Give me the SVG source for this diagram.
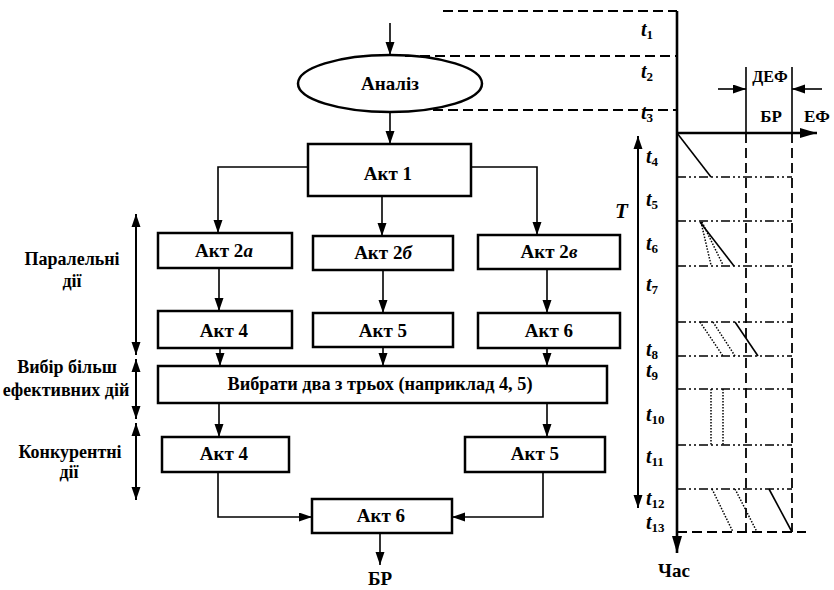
<svg xmlns="http://www.w3.org/2000/svg" width="834" height="590" viewBox="0 0 834 590">
  <defs>
    <marker id="ah" markerUnits="userSpaceOnUse" markerWidth="14" markerHeight="10" refX="13" refY="4.5" orient="auto">
      <path d="M0,0 L13,4.5 L0,9 z" fill="#000"/>
    </marker>
    <marker id="ahs" markerUnits="userSpaceOnUse" markerWidth="14" markerHeight="10" refX="0" refY="4.5" orient="auto">
      <path d="M13,0 L0,4.5 L13,9 z" fill="#000"/>
    </marker>
    <marker id="ahb" markerUnits="userSpaceOnUse" markerWidth="18" markerHeight="12" refX="17" refY="5" orient="auto">
      <path d="M0,0 L17,5 L0,10 z" fill="#000"/>
    </marker>
  </defs>
  <style>
    .lbl { text-anchor: middle; }
    .box { fill: #fff; stroke: #000; stroke-width: 2.5; }
    .conn { fill: none; stroke: #000; stroke-width: 1.6; marker-end: url(#ah); }
    .dbl { fill: none; stroke: #000; stroke-width: 2; marker-end: url(#ah); marker-start: url(#ahs); }
    .dash { fill: none; stroke: #000; stroke-width: 1.8; stroke-dasharray: 10 5; }
    .dd { fill: none; stroke: #000; stroke-width: 1.5; stroke-dasharray: 9 3 2 3 2 3; }
    .dot { fill: none; stroke: #000; stroke-width: 1.5; stroke-dasharray: 1.5 1.5; }
    .sl { fill: none; stroke: #000; stroke-width: 1.6; }
    .axis { fill: none; stroke: #000; stroke-width: 2.6; }
    .t { font-style: italic; }
  </style>

  <g font-family="'Liberation Serif', 'DejaVu Serif', 'Times New Roman', serif" font-weight="bold" font-size="19" fill="#000">

  <!-- flowchart connectors -->
  <g id="connectors">
    <path class="conn" d="M390,23 V55"/>
    <path class="conn" d="M390,112 V144"/>
    <path class="conn" d="M308,167 H218 V233"/>
    <path class="conn" d="M382,197 V236"/>
    <path class="conn" d="M471,167 H537 V235"/>
    <path class="conn" d="M219,268 V311"/>
    <path class="conn" d="M383,270 V313"/>
    <path class="conn" d="M547,269 V313"/>
    <path class="conn" d="M220,348 V366"/>
    <path class="conn" d="M383,347 V366"/>
    <path class="conn" d="M547,348 V366"/>
    <path class="conn" d="M219,403 V437"/>
    <path class="conn" d="M547,403 V437"/>
    <path class="conn" d="M218,472 V517 H312"/>
    <path class="conn" d="M543,472 V517 H452"/>
    <path class="conn" d="M380,533 V565"/>
  </g>

  <!-- nodes -->
  <g id="analysis">
    <ellipse cx="390" cy="83.5" rx="92" ry="28.5" fill="#fff" stroke="#000" stroke-width="2.5"/>
    <text class="lbl" x="390" y="90">Аналіз</text>
  </g>
  <g id="act1">
    <rect class="box" x="308" y="144" width="163" height="52"/>
    <text class="lbl" x="388" y="180">Акт 1</text>
  </g>
  <g id="act2a">
    <rect class="box" x="158" y="233" width="134" height="35"/>
    <text class="lbl" x="224" y="257">Акт 2<tspan font-style="italic">а</tspan></text>
  </g>
  <g id="act2b">
    <rect class="box" x="313" y="236" width="140" height="34"/>
    <text class="lbl" x="383" y="259">Акт 2<tspan font-style="italic">б</tspan></text>
  </g>
  <g id="act2v">
    <rect class="box" x="478" y="235" width="142" height="34"/>
    <text class="lbl" x="549" y="258">Акт 2<tspan font-style="italic">в</tspan></text>
  </g>
  <g id="act4">
    <rect class="box" x="158" y="311" width="134" height="37"/>
    <text class="lbl" x="224" y="337">Акт 4</text>
  </g>
  <g id="act5">
    <rect class="box" x="313" y="313" width="140" height="34"/>
    <text class="lbl" x="383" y="337">Акт 5</text>
  </g>
  <g id="act6">
    <rect class="box" x="478" y="313" width="142" height="35"/>
    <text class="lbl" x="549" y="337">Акт 6</text>
  </g>
  <g id="choose">
    <rect class="box" x="158" y="366" width="449" height="37"/>
    <text class="lbl" x="380" y="390" font-size="18.3">Вибрати два з трьох (наприклад 4, 5)</text>
  </g>
  <g id="act4b">
    <rect class="box" x="162" y="437" width="127" height="35"/>
    <text class="lbl" x="224" y="460">Акт 4</text>
  </g>
  <g id="act5b">
    <rect class="box" x="465" y="437" width="140" height="35"/>
    <text class="lbl" x="535" y="460">Акт 5</text>
  </g>
  <g id="act6b">
    <rect class="box" x="312" y="499" width="140" height="34"/>
    <text class="lbl" x="381" y="522">Акт 6</text>
  </g>
  <g id="result">
    <text class="lbl" x="380" y="585">БР</text>
  </g>

  <!-- phase labels on the left -->
  <g id="phases">
    <path class="dbl" d="M136,214 V355"/>
    <path class="dbl" d="M136,359 V419"/>
    <path class="dbl" d="M136,423 V500"/>
    <text class="lbl" x="72" y="265" font-size="18">Паралельні</text>
    <text class="lbl" x="72" y="287" font-size="18">дії</text>
    <text class="lbl" x="67" y="373" font-size="18">Вибір більш</text>
    <text class="lbl" x="66" y="396" font-size="18">ефективних дій</text>
    <text class="lbl" x="70" y="458" font-size="18">Конкурентні</text>
    <text class="lbl" x="69" y="478" font-size="18">дії</text>
  </g>

  <!-- time chart -->
  <g id="timeline">
    <path class="dash" d="M443,11 H677"/>
    <path class="dash" d="M405,56 H677"/>
    <path class="dash" d="M433,110 H677"/>
    <path class="axis" d="M677,11 V553" marker-end="url(#ahb)"/>
    <path class="axis" d="M677,133 H817" marker-end="url(#ahb)"/>
    <path class="sl" d="M746,67 V133 M792,67 V133" stroke-width="2"/>
    <path class="dash" d="M746,133 V532 M792,133 V532"/>
    <path class="conn" d="M718,89 H746"/>
    <path class="conn" d="M822,89 H792"/>
    <path class="dd" d="M677,177 H792 M677,221 H792 M677,266 H792 M677,322 H792 M677,356 H792 M677,389 H792 M677,445 H792 M677,489 H792"/>
    <path class="dash" d="M677,532 H806"/>
    <path class="sl" d="M677,133 L711,177"/>
    <path class="sl" d="M700,222 L734,266"/>
    <path class="dot" d="M701,222 L711,265 M702,222 L723,265"/>
    <path class="dot" d="M700,322 L723,356 M713,322 L735,356"/>
    <path class="sl" d="M735,322 L758,356"/>
    <path class="dot" d="M711,389 V445 M723,389 V445"/>
    <path class="dot" d="M712,489 L733,532 M735,489 L757,532"/>
    <path class="sl" d="M769,489 L792,532"/>
    <path class="dbl" d="M638,136 V508" stroke-width="2.4"/>
    <text x="615" y="218" class="t" font-size="21">T</text>
    <text x="770" y="82" class="lbl" font-size="16">ДЕФ</text>
    <text x="771" y="122" class="lbl" font-size="17">БР</text>
    <text x="817" y="122" class="lbl" font-size="17">ЕФ</text>
    <text x="674" y="577" class="lbl" font-size="19">Час</text>
    <g font-size="20">
      <text class="t" x="641" y="36">t<tspan font-size="13" font-style="normal" dy="3">1</tspan></text>
      <text class="t" x="641" y="78">t<tspan font-size="13" font-style="normal" dy="3">2</tspan></text>
      <text class="t" x="641" y="119">t<tspan font-size="13" font-style="normal" dy="3">3</tspan></text>
      <text class="t" x="646" y="163">t<tspan font-size="13" font-style="normal" dy="3">4</tspan></text>
      <text class="t" x="646" y="206">t<tspan font-size="13" font-style="normal" dy="3">5</tspan></text>
      <text class="t" x="646" y="250">t<tspan font-size="13" font-style="normal" dy="3">6</tspan></text>
      <text class="t" x="646" y="291">t<tspan font-size="13" font-style="normal" dy="3">7</tspan></text>
      <text class="t" x="646" y="356">t<tspan font-size="13" font-style="normal" dy="3">8</tspan></text>
      <text class="t" x="646" y="377">t<tspan font-size="13" font-style="normal" dy="3">9</tspan></text>
      <text class="t" x="646" y="421">t<tspan font-size="13" font-style="normal" dy="3">10</tspan></text>
      <text class="t" x="646" y="463">t<tspan font-size="13" font-style="normal" dy="3">11</tspan></text>
      <text class="t" x="646" y="505">t<tspan font-size="13" font-style="normal" dy="3">12</tspan></text>
      <text class="t" x="646" y="529">t<tspan font-size="13" font-style="normal" dy="3">13</tspan></text>
    </g>
  </g>
  </g>
</svg>
